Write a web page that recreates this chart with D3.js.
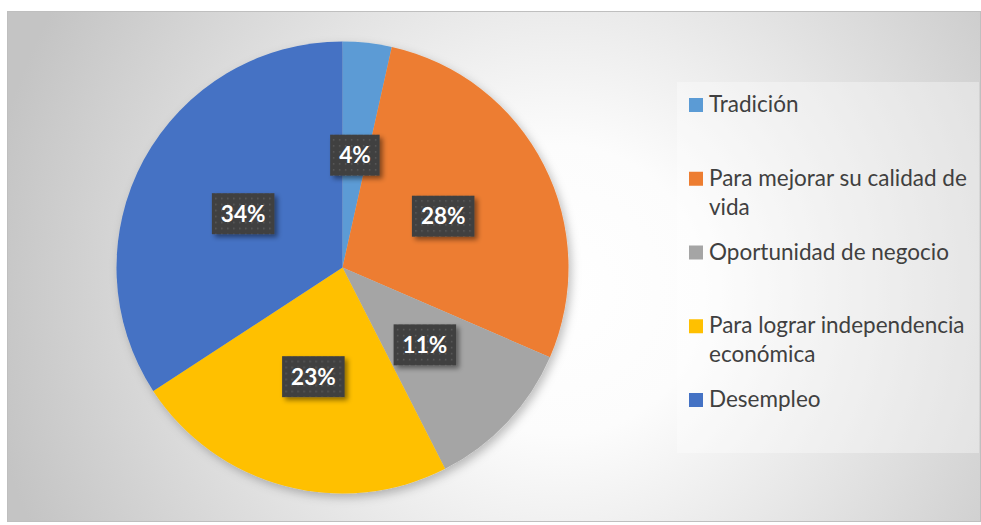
<!DOCTYPE html>
<html>
<head>
<meta charset="utf-8">
<script src="https://cdn.jsdelivr.net/npm/d3@7"></script>
<style>
  html, body { margin: 0; padding: 0; background: #fff; }
  svg { display: block; font-family: Lato, "Open Sans", sans-serif; }
</style>
</head>
<body>
<svg id="chart" width="981" height="525"></svg>
<script>
(function () {
  "use strict";

  // Reasons (share of respondents, %), clockwise from 12 o'clock
  var categories = [
    "Tradición",
    "Para mejorar su calidad de vida",
    "Oportunidad de negocio",
    "Para lograr independencia económica",
    "Desempleo"
  ];
  var values = [3.5, 28.0, 11.0, 23.3, 34.2];
  var colors = ["#5b9bd5", "#ed7d31", "#a5a5a5", "#ffc000", "#4472c4"];

  var svg = d3.select("#chart");
  var defs = svg.append("defs");

  // background: Excel-style radial gradient
  var grad = defs.append("radialGradient")
    .attr("id", "bg")
    .attr("gradientUnits", "userSpaceOnUse")
    .attr("cx", 560).attr("cy", 290).attr("r", 580);
  grad.append("stop").attr("offset", "0%").attr("stop-color", "#ffffff");
  grad.append("stop").attr("offset", "25%").attr("stop-color", "#fcfcfc");
  grad.append("stop").attr("offset", "100%").attr("stop-color", "#c4c4c4");

  var pieShadow = defs.append("filter").attr("id", "pieShadow")
    .attr("x", "-20%").attr("y", "-20%").attr("width", "140%").attr("height", "140%");
  pieShadow.append("feDropShadow")
    .attr("dx", 3).attr("dy", 4).attr("stdDeviation", 5)
    .attr("flood-color", "#000").attr("flood-opacity", 0.25);

  var boxShadow = defs.append("filter").attr("id", "boxShadow")
    .attr("x", "-30%").attr("y", "-30%").attr("width", "170%").attr("height", "170%");
  boxShadow.append("feDropShadow")
    .attr("dx", 3).attr("dy", 3).attr("stdDeviation", 2.5)
    .attr("flood-color", "#000").attr("flood-opacity", 0.45);

  var dots = defs.append("pattern").attr("id", "dots")
    .attr("patternUnits", "userSpaceOnUse")
    .attr("width", 6).attr("height", 6);
  dots.append("rect").attr("width", 6).attr("height", 6).attr("fill", "#404040");
  dots.append("rect").attr("x", 2).attr("y", 2).attr("width", 1.5).attr("height", 1.5)
    .attr("fill", "#5c5c5c");

  svg.append("rect")
    .attr("x", 7.5).attr("y", 11.5)
    .attr("width", 973).attr("height", 510)
    .attr("fill", "url(#bg)")
    .attr("stroke", "#bfbfbf");

  // pie
  var cx = 342.5, cy = 267.5, radius = 226;
  var pie = d3.pie().sort(null).value(function (d) { return d; });
  var arcs = pie(values);
  var arc = d3.arc().innerRadius(0).outerRadius(radius);
  var total = d3.sum(values);

  var g = svg.append("g").attr("transform", "translate(" + cx + "," + cy + ")");
  g.append("g").attr("filter", "url(#pieShadow)")
    .selectAll("path")
    .data(arcs)
    .join("path")
    .attr("d", arc)
    .attr("fill", function (d, i) { return colors[i]; });

  // data labels on dark dotted boxes
  var labels = g.selectAll("g.label")
    .data(arcs)
    .join("g")
    .attr("class", "label")
    .attr("transform", function (d) {
      return "translate(" + arc.centroid(d) + ")";
    });

  labels.append("text")
    .attr("text-anchor", "middle")
    .attr("dy", "0.36em")
    .attr("fill", "#ffffff")
    .attr("font-weight", "bold")
    .attr("font-size", 22.5)
    .text(function (d) { return Math.round(d.value / total * 100) + "%"; })
    .each(function () {
      var bb = this.getBBox();
      var padX = 9;
      d3.select(this.parentNode).insert("rect", "text")
        .attr("x", bb.x - padX)
        .attr("y", -20.5)
        .attr("width", bb.width + padX * 2)
        .attr("height", 41)
        .attr("fill", "url(#dots)")
        .attr("filter", "url(#boxShadow)");
    });

  // legend
  svg.append("rect")
    .attr("x", 677).attr("y", 82)
    .attr("width", 302).attr("height", 371)
    .attr("fill", "#ffffff").attr("fill-opacity", 0.35);

  var rowY = d3.scalePoint().domain(categories).range([112, 407]);
  var lineHeight = 29, maxWidth = 262;

  var item = svg.selectAll("g.legend")
    .data(categories)
    .join("g")
    .attr("class", "legend")
    .attr("transform", function (d) { return "translate(689," + rowY(d) + ")"; });

  item.append("rect")
    .attr("x", 0).attr("y", -14)
    .attr("width", 14).attr("height", 14)
    .attr("fill", function (d, i) { return colors[i]; });

  item.append("text")
    .attr("x", 20)
    .attr("fill", "#404040")
    .attr("font-size", 22.5)
    .each(function (d) {
      var text = d3.select(this);
      var words = d.split(" ");
      var line = [];
      var lineNo = 0;
      var tspan = text.append("tspan").attr("x", 20).attr("y", 0);
      words.forEach(function (w) {
        line.push(w);
        tspan.text(line.join(" "));
        if (tspan.node().getComputedTextLength() > maxWidth && line.length > 1) {
          line.pop();
          tspan.text(line.join(" "));
          line = [w];
          lineNo += 1;
          tspan = text.append("tspan").attr("x", 20).attr("y", lineNo * lineHeight).text(w);
        }
      });
    });
})();
</script>
</body>
</html>
